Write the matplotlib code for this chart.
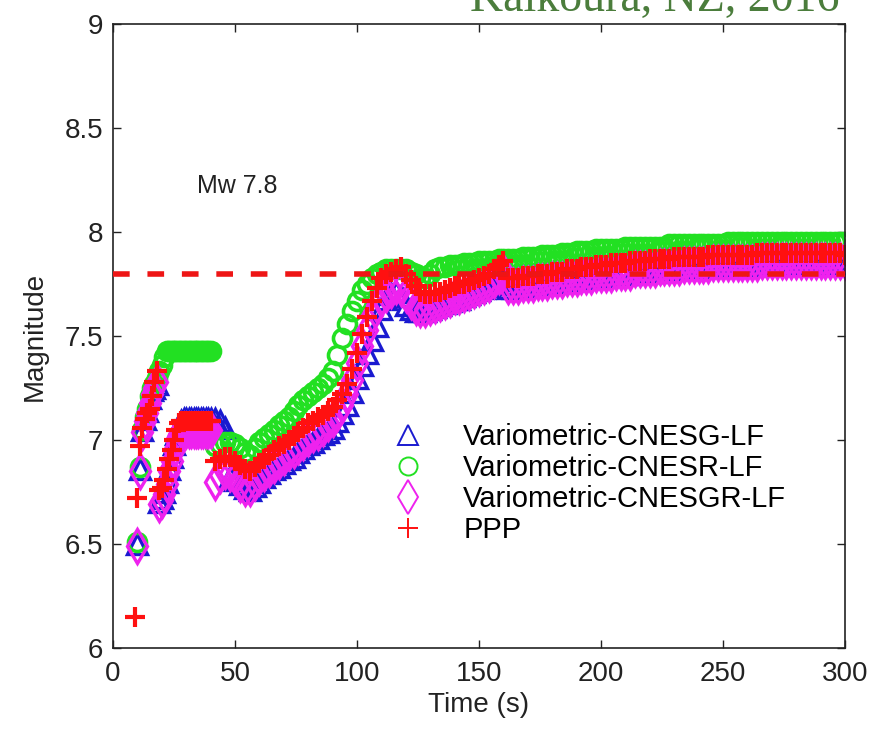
import numpy as np
import matplotlib
matplotlib.use("Agg")
import matplotlib.pyplot as plt

plt.rcParams["font.family"] = ["Liberation Sans", "DejaVu Sans"]

nan = np.nan

# sample times (s): 1 s steps early on, 2 s steps afterwards
time_a = list(range(9, 41))
time_b = list(range(42, 301, 2))
time = np.array(time_a + time_b, dtype=float)

# Variometric-CNESG-LF
cnesg = [
    nan, 6.50, 6.86, 7.05, 7.10, 7.14, 7.20, 7.24, 7.25, 7.27,
    6.70, 6.72, 6.75, 6.80, 6.86, 6.92, 6.98, 7.03, 7.07, 7.09,
    7.10, 7.10, 7.10, 7.10, 7.10, 7.10, 7.10, 7.10, 7.10, 7.10,
    7.10, 7.10,
    7.10, 7.09, 7.06, 6.82, 6.81, 6.79, 6.77, 6.76, 6.78, 6.80,
    6.82, 6.84, 6.86, 6.87, 6.89, 6.91, 6.92, 6.94, 6.96, 6.98,
    6.99, 7.01, 7.03, 7.04, 7.06, 7.09, 7.13, 7.17, 7.23, 7.30,
    7.36, 7.42, 7.48, 7.55, 7.63, 7.68, 7.70, 7.71, 7.69, 7.65,
    7.63, 7.62, 7.62, 7.62, 7.63, 7.64, 7.65, 7.66, 7.67, 7.68,
    7.68, 7.69, 7.70, 7.71, 7.72, 7.73, 7.74, 7.75, 7.77, 7.78,
    7.73, 7.73, 7.73, 7.74, 7.74, 7.74, 7.75, 7.75, 7.75, 7.76,
    7.76, 7.76, 7.77, 7.77, 7.77, 7.78, 7.78, 7.78, 7.79, 7.79,
    7.79, 7.79, 7.80, 7.80, 7.80, 7.80, 7.81, 7.81, 7.81, 7.81,
    7.81, 7.82, 7.82, 7.82, 7.82, 7.82, 7.83, 7.83, 7.83, 7.83,
    7.83, 7.83, 7.84, 7.84, 7.84, 7.84, 7.84, 7.84, 7.84, 7.84,
    7.84, 7.84, 7.85, 7.85, 7.85, 7.85, 7.85, 7.85, 7.85, 7.85,
    7.85, 7.85, 7.85, 7.85, 7.85, 7.85, 7.85, 7.85, 7.85, 7.85,
]

# Variometric-CNESR-LF
cnesr = [
    nan, 6.51, 6.87, 7.05, 7.11, 7.15, 7.21, 7.25, 7.27, 7.30,
    7.33, 7.36, 7.40, 7.43, 7.43, 7.43, 7.43, 7.43, 7.43, 7.43,
    7.43, 7.43, 7.43, 7.43, 7.43, 7.43, 7.43, 7.43, 7.43, 7.43,
    7.43, 7.43,
    6.97, 6.98, 6.99, 6.99, 6.98, 6.96, 6.94, 6.93, 6.96, 6.99,
    7.01, 7.03, 7.05, 7.07, 7.09, 7.11, 7.14, 7.17, 7.19, 7.21,
    7.23, 7.25, 7.27, 7.30, 7.33, 7.41, 7.49, 7.56, 7.62, 7.67,
    7.72, 7.75, 7.78, 7.80, 7.81, 7.82, 7.82, 7.82, 7.82, 7.82,
    7.81, 7.80, 7.78, 7.78, 7.80, 7.82, 7.83, 7.83, 7.84, 7.84,
    7.84, 7.85, 7.85, 7.85, 7.86, 7.86, 7.86, 7.86, 7.87, 7.87,
    7.87, 7.87, 7.87, 7.88, 7.88, 7.88, 7.88, 7.89, 7.89, 7.89,
    7.89, 7.90, 7.90, 7.90, 7.91, 7.91, 7.91, 7.91, 7.92, 7.92,
    7.92, 7.92, 7.92, 7.92, 7.93, 7.93, 7.93, 7.93, 7.93, 7.93,
    7.93, 7.93, 7.93, 7.94, 7.94, 7.94, 7.94, 7.94, 7.94, 7.94,
    7.94, 7.94, 7.94, 7.94, 7.94, 7.95, 7.95, 7.95, 7.95, 7.95,
    7.95, 7.95, 7.95, 7.95, 7.95, 7.95, 7.95, 7.95, 7.95, 7.95,
    7.95, 7.95, 7.95, 7.95, 7.95, 7.95, 7.95, 7.95, 7.95, 7.95,
]

# Variometric-CNESGR-LF
cnesgr = [
    nan, 6.49, 6.85, 7.04, 7.09, 7.13, 7.18, 7.22, 7.25, 7.28,
    6.69, 6.71, 6.74, 6.79, 6.85, 6.90, 6.95, 7.00, 7.03, 7.05,
    7.05, 7.05, 7.05, 7.05, 7.05, 7.05, 7.05, 7.05, 7.05, 7.05,
    7.05, 7.05,
    6.80, 6.83, 6.85, 6.84, 6.82, 6.79, 6.77, 6.77, 6.80, 6.82,
    6.84, 6.86, 6.88, 6.90, 6.92, 6.94, 6.95, 6.97, 6.99, 7.01,
    7.03, 7.04, 7.06, 7.08, 7.10, 7.13, 7.17, 7.22, 7.29, 7.37,
    7.45, 7.53, 7.60, 7.65, 7.68, 7.70, 7.72, 7.74, 7.73, 7.70,
    7.67, 7.64, 7.63, 7.63, 7.64, 7.65, 7.66, 7.67, 7.68, 7.69,
    7.69, 7.70, 7.71, 7.72, 7.73, 7.74, 7.75, 7.77, 7.79, 7.81,
    7.74, 7.74, 7.74, 7.75, 7.75, 7.75, 7.76, 7.76, 7.76, 7.77,
    7.77, 7.77, 7.78, 7.78, 7.78, 7.79, 7.79, 7.79, 7.80, 7.80,
    7.80, 7.80, 7.81, 7.81, 7.81, 7.81, 7.82, 7.82, 7.82, 7.82,
    7.82, 7.83, 7.83, 7.83, 7.83, 7.83, 7.84, 7.84, 7.84, 7.84,
    7.84, 7.84, 7.85, 7.85, 7.85, 7.85, 7.85, 7.85, 7.85, 7.85,
    7.85, 7.85, 7.86, 7.86, 7.86, 7.86, 7.86, 7.86, 7.86, 7.86,
    7.86, 7.86, 7.86, 7.86, 7.86, 7.86, 7.86, 7.86, 7.86, 7.86,
]

# PPP
ppp = [
    6.15, 6.72, 6.97, 7.06, 7.10, 7.13, 7.15, 7.21, 7.28, 7.33,
    6.76, 6.77, 6.81, 6.86, 6.91, 6.95, 7.00, 7.05, 7.08, 7.09,
    7.09, 7.09, 7.09, 7.09, 7.09, 7.09, 7.09, 7.09, 7.09, 7.09,
    7.09, 7.09,
    6.90, 6.91, 6.92, 6.92, 6.90, 6.88, 6.86, 6.85, 6.87, 6.89,
    6.91, 6.93, 6.95, 6.97, 6.98, 7.00, 7.02, 7.04, 7.06, 7.08,
    7.09, 7.11, 7.12, 7.14, 7.16, 7.19, 7.22, 7.27, 7.34, 7.42,
    7.51, 7.59, 7.67, 7.73, 7.78, 7.80, 7.81, 7.82, 7.83, 7.80,
    7.77, 7.74, 7.71, 7.70, 7.70, 7.71, 7.71, 7.72, 7.73, 7.74,
    7.75, 7.75, 7.76, 7.77, 7.78, 7.79, 7.80, 7.82, 7.84, 7.86,
    7.78, 7.78, 7.78, 7.79, 7.79, 7.79, 7.80, 7.80, 7.80, 7.81,
    7.81, 7.81, 7.82, 7.82, 7.82, 7.83, 7.83, 7.83, 7.84, 7.84,
    7.84, 7.85, 7.85, 7.85, 7.85, 7.86, 7.86, 7.86, 7.86, 7.87,
    7.87, 7.87, 7.87, 7.87, 7.88, 7.88, 7.88, 7.88, 7.88, 7.88,
    7.88, 7.89, 7.89, 7.89, 7.89, 7.89, 7.89, 7.89, 7.89, 7.89,
    7.89, 7.90, 7.90, 7.90, 7.90, 7.90, 7.90, 7.90, 7.90, 7.90,
    7.90, 7.90, 7.90, 7.90, 7.90, 7.90, 7.90, 7.90, 7.90, 7.89,
]

final_mw = 7.8

fig = plt.figure(figsize=(8.72, 7.31), dpi=100)
ax = fig.add_axes([0.1296, 0.1135, 0.8394, 0.8537])

# thick open markers so that the dense samples merge into bands
ax.plot(time, cnesg, linestyle="none", marker="^", ms=14, mfc="none",
        mec="#1a1ad0", mew=2.4, label="Variometric-CNESG-LF")
ax.plot(time, cnesr, linestyle="none", marker="o", ms=13, mfc="none",
        mec="#22e022", mew=2.6, label="Variometric-CNESR-LF")
ax.plot(time, cnesgr, linestyle="none", marker="d", ms=17, mfc="none",
        mec="#ee22ee", mew=2.4, label="Variometric-CNESGR-LF")
ax.plot(time, ppp, linestyle="none", marker="+", ms=15,
        mec="#ff1010", mew=3.0, label="PPP")

ax.axhline(final_mw, color="#ee1515", lw=4, dashes=(3, 3.2), zorder=5)

ax.set_xlim(0, 300)
ax.set_ylim(6, 9)
ax.set_xticks([0, 50, 100, 150, 200, 250, 300])
ax.set_yticks([6, 6.5, 7, 7.5, 8, 8.5, 9])
ax.set_yticklabels(["6", "6.5", "7", "7.5", "8", "8.5", "9"])
ax.tick_params(direction="in", top=True, right=True, length=6, width=1,
               labelsize=20, colors="#222222")
ax.tick_params(axis="x", pad=9)
ax.tick_params(axis="y", pad=7)
for s in ax.spines.values():
    s.set_linewidth(1.2)
    s.set_color("#222222")

ax.set_xlabel("Time (s)", fontsize=20, labelpad=4, color="#222222")
ax.set_ylabel("Magnitude", fontsize=20, labelpad=12, color="#222222")

ax.text(51, 8.22, "Mw 7.8", fontsize=18, ha="center", va="center",
        color="#222222")

leg = ax.legend(loc="upper left", bbox_to_anchor=(0.379, 0.36), frameon=False,
                fontsize=21, numpoints=1, handlelength=1.2, handletextpad=1.3,
                labelspacing=0.1, borderpad=0, borderaxespad=0)
for h in leg.legend_handles:
    h.set_markeredgewidth(1.4)

fig.text(0.963, 0.985, "Kaikoura, NZ, 2016", ha="right", va="baseline",
         fontsize=33, color="#4b7d3c", family=["Liberation Serif", "DejaVu Serif"])

fig.savefig("out.png", dpi=100)
